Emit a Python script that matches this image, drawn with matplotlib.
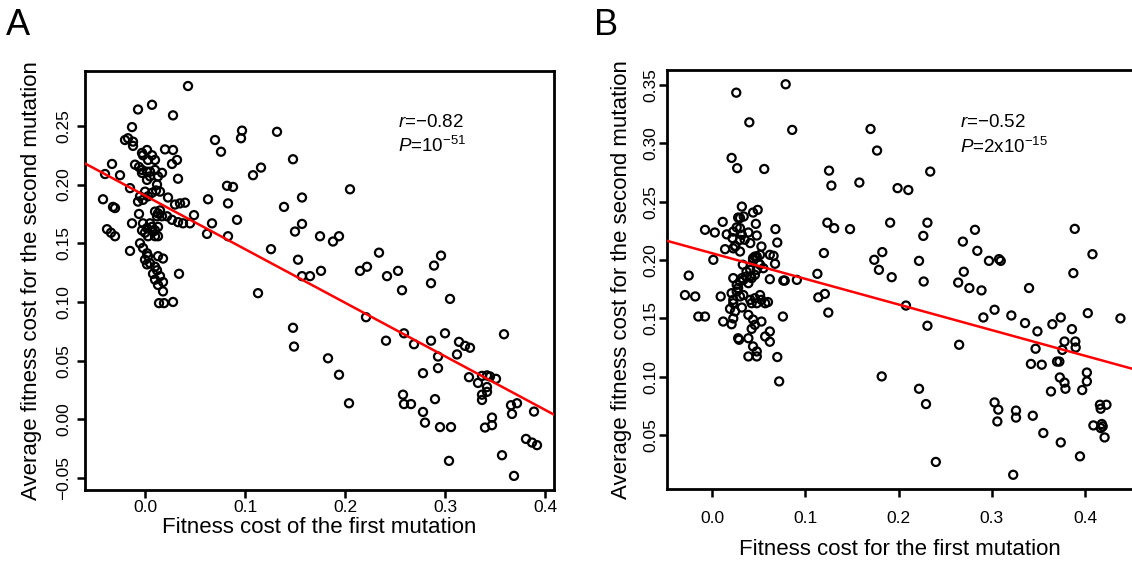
import numpy as np
import matplotlib
matplotlib.use("Agg")
import matplotlib.pyplot as plt

plt.rcParams['font.family'] = ['Liberation Sans', 'DejaVu Sans']
plt.rcParams['mathtext.fontset'] = 'custom'
plt.rcParams['mathtext.rm'] = 'Liberation Sans'
plt.rcParams['mathtext.it'] = 'Liberation Sans:italic'

# ---- panel A: first vs second mutation cost ----
a_x = [0.043, 0.007, -0.007, 0.028, -0.013, -0.020, -0.017, -0.012, -0.012,
       0.070, 0.097, 0.096, 0.132, 0.076, 0.020, 0.028,
       -0.003, 0.002, 0.007, 0.010, -0.002, 0.003,
       -0.033, -0.040, -0.025, -0.010, -0.006, -0.003, 0.002, 0.005,
       -0.003, 0.002, 0.005, 0.010, 0.013, 0.012, 0.017, 0.015, 0.011,
       0.027, 0.032, 0.033, 0.108, 0.116, 0.082, 0.088, 0.083, 0.063,
       -0.015, -0.042, -0.032, -0.030,
       -0.005, -0.002, -0.007, 0.000, 0.003, 0.007,
       0.023, 0.030, 0.035, 0.040, 0.049, 0.067, 0.092, 0.062, 0.083,
       -0.006, -0.013, -0.038, -0.034, -0.030,
       -0.015, 0.126, 0.113, 0.034, 0.014, 0.019, 0.028, 0.013, 0.018,
       0.010, 0.013, 0.015, 0.012, 0.017, 0.022, 0.027, 0.033, 0.038, 0.045,
       -0.002, 0.002, -0.003, 0.003, 0.000, 0.007, 0.008, 0.005, 0.010, 0.013, 0.013, 0.010,
       -0.005, -0.002, 0.002, 0.000, 0.003, 0.002, 0.005,
       0.010, 0.012, 0.008, 0.015, 0.010, 0.018, 0.013, 0.018,
       0.148, 0.205, 0.157, 0.139, 0.157, 0.150, 0.175, 0.188, 0.194, 0.153,
       0.157, 0.165, 0.176, 0.215, 0.222, 0.234, 0.242, 0.253, 0.289, 0.296,
       0.286, 0.257, 0.305, 0.221, 0.148, 0.149, 0.183, 0.194, 0.204, 0.241,
       0.259, 0.269, 0.286, 0.300, 0.293, 0.293, 0.278, 0.290, 0.258, 0.259,
       0.266, 0.278, 0.280, 0.295, 0.306, 0.304, 0.314, 0.320, 0.325, 0.312,
       0.324, 0.333, 0.337, 0.342, 0.345, 0.351, 0.342, 0.342, 0.337, 0.337,
       0.359, 0.366, 0.372, 0.367, 0.347, 0.347, 0.340, 0.389, 0.381, 0.387,
       0.392, 0.357, 0.369]
a_y = [0.284, 0.268, 0.264, 0.259, 0.249, 0.238, 0.2395, 0.2366, 0.233,
       0.238, 0.246, 0.2395, 0.245, 0.228, 0.230, 0.2295,
       0.227, 0.2295, 0.225, 0.221, 0.225, 0.221,
       0.2176, 0.209, 0.208, 0.217, 0.215, 0.2125, 0.211, 0.207,
       0.210, 0.204, 0.211, 0.2125, 0.207, 0.200, 0.210, 0.194, 0.195,
       0.2176, 0.221, 0.205, 0.208, 0.2145, 0.199, 0.198, 0.184, 0.1875,
       0.197, 0.1875, 0.181, 0.180,
       0.190, 0.187, 0.1855, 0.194, 0.190, 0.193,
       0.189, 0.183, 0.184, 0.1846, 0.174, 0.167, 0.170, 0.158, 0.156,
       0.175, 0.167, 0.162, 0.159, 0.156,
       0.1435, 0.145, 0.1075, 0.124, 0.099, 0.099, 0.100, 0.139, 0.137,
       0.177, 0.1755, 0.178, 0.173, 0.173, 0.173, 0.170, 0.168, 0.167, 0.167,
       0.167, 0.163, 0.161, 0.156, 0.159, 0.164, 0.160, 0.167, 0.161, 0.164, 0.156, 0.156,
       0.150, 0.146, 0.1415, 0.136, 0.139, 0.132, 0.133,
       0.130, 0.127, 0.124, 0.122, 0.119, 0.117, 0.1145, 0.109,
       0.2216, 0.196, 0.189, 0.181, 0.1665, 0.160, 0.156, 0.1515, 0.156, 0.136,
       0.122, 0.122, 0.1265, 0.1265, 0.130, 0.142, 0.122, 0.1265, 0.131, 0.1395,
       0.116, 0.110, 0.1026, 0.087, 0.078, 0.062, 0.052, 0.038, 0.0137, 0.067,
       0.0733, 0.064, 0.067, 0.0733, 0.0535, 0.0436, 0.0393, 0.0172, 0.021, 0.013,
       0.013, 0.0063, -0.0028, -0.0066, -0.0066, -0.0354, 0.066, 0.0626, 0.061, 0.0553,
       0.0359, 0.031, 0.037, 0.0374, 0.0365, 0.0345, 0.0275, 0.0234, 0.021, 0.0165,
       0.0725, 0.012, 0.0137, 0.0046, 0.0015, -0.005, -0.007, 0.0066, -0.0167, -0.0198,
       -0.022, -0.0306, -0.0482]
a_fit_x = [-0.06, 0.409]
a_fit_y = [0.218, 0.004]
a_xticks = [0.0, 0.1, 0.2, 0.3, 0.4]
a_yticks = [-0.05, 0.00, 0.05, 0.10, 0.15, 0.20, 0.25]

# ---- panel B ----
b_x = [0.026, 0.079, 0.040, 0.086, 0.021, 0.027, 0.056, 0.1255, 0.128, 0.158,
       0.170, 0.177, 0.234, 0.199, 0.2105,
       0.032, 0.028, 0.044, 0.049, 0.047, 0.034, 0.0115, -0.0075, 0.003,
       0.0158, 0.0228, 0.030, 0.032, 0.039, 0.035, 0.041, 0.048,
       0.068, 0.070, 0.1237, 0.131, 0.148,
       0.022, 0.0247, 0.014, 0.030, 0.053, 0.0014, -0.025,
       0.044, 0.048, 0.0515, 0.062, 0.066, 0.0676, 0.120, 0.113,
       0.033, 0.037, 0.032, 0.041, 0.048, 0.0515, 0.055,
       0.0228, 0.062, 0.0765, 0.078, 0.091,
       0.030, 0.0265, 0.025, 0.030, 0.0228, 0.046, 0.044, 0.050,
       0.041, 0.037, 0.0425, 0.046, 0.0336, 0.039, 0.030, 0.0265,
       -0.018, -0.029, 0.0093, 0.021, 0.0265, 0.030, 0.0228, 0.028,
       0.0336, 0.041, 0.046, 0.0515, 0.053, 0.057, 0.060, 0.048, 0.0425,
       0.0228, 0.0193, 0.032, 0.0247, -0.0147, -0.0075, 0.012, 0.021, 0.0228,
       0.039, 0.044, 0.046, 0.053, 0.0425, 0.062, 0.057, 0.062, 0.076,
       0.028, 0.029, 0.039, 0.044, 0.048, 0.039, 0.048, 0.070, 0.072,
       0.114, 0.121, 0.1247,
       0.191, 0.231, 0.2266, 0.282, 0.269, 0.389, 0.408, 0.3875,
       0.1826, 0.174, 0.179, 0.1927, 0.222, 0.227, 0.2845, 0.270, 0.264, 0.276,
       0.289, 0.297, 0.3078, 0.3096, 0.340,
       0.208, 0.231, 0.265, 0.182, 0.222, 0.2295, 0.240,
       0.291, 0.303, 0.321, 0.3357, 0.349, 0.347, 0.342, 0.3536,
       0.365, 0.374, 0.386, 0.378, 0.3896, 0.390, 0.3757, 0.403, 0.438,
       0.370, 0.3725, 0.373, 0.378, 0.379, 0.3635, 0.397, 0.402, 0.402,
       0.303, 0.307, 0.306, 0.326, 0.326, 0.344, 0.3553, 0.374, 0.3946, 0.323,
       0.416, 0.423, 0.4168, 0.409, 0.418, 0.419, 0.417, 0.421]
b_y = [0.3434, 0.3506, 0.318, 0.3115, 0.2875, 0.2787, 0.278, 0.2766, 0.2638, 0.2664,
       0.3123, 0.2938, 0.2758, 0.2616, 0.260,
       0.2458, 0.2364, 0.2407, 0.243, 0.231, 0.2373, 0.2327, 0.2259, 0.2236,
       0.222, 0.2244, 0.2273, 0.2216, 0.2236, 0.2174, 0.2145, 0.221,
       0.2265, 0.215, 0.232, 0.2273, 0.2265,
       0.2188, 0.2122, 0.2093, 0.2073, 0.2116, 0.2002, 0.1867,
       0.2016, 0.203, 0.2045, 0.2045, 0.2036, 0.1968, 0.206, 0.1882,
       0.196, 0.190, 0.1845, 0.186, 0.1916, 0.196, 0.193,
       0.1845, 0.1836, 0.1824, 0.1824, 0.183,
       0.236, 0.228, 0.2116, 0.2173, 0.210, 0.203, 0.200, 0.1973,
       0.1916, 0.1859, 0.1845, 0.1873, 0.183, 0.1802, 0.1816, 0.1788,
       0.1688, 0.170, 0.1688, 0.1716, 0.173, 0.1688, 0.1659, 0.176,
       0.170, 0.1659, 0.1673, 0.170, 0.1659, 0.163, 0.164, 0.163, 0.163,
       0.163, 0.1582, 0.1593, 0.156, 0.1516, 0.1516, 0.1473, 0.145, 0.150,
       0.153, 0.149, 0.1445, 0.1473, 0.141, 0.1388, 0.1345, 0.130, 0.1516,
       0.133, 0.1317, 0.133, 0.126, 0.1217, 0.1174, 0.1174, 0.1169, 0.096,
       0.168, 0.171, 0.155,
       0.232, 0.232, 0.2207, 0.2259, 0.2158, 0.2267, 0.205, 0.1888,
       0.2068, 0.2002, 0.1916, 0.1853, 0.1993, 0.1816, 0.2079, 0.190, 0.1807, 0.176,
       0.174, 0.1993, 0.2008, 0.1993, 0.176,
       0.161, 0.1437, 0.1274, 0.1003, 0.0897, 0.0766, 0.027,
       0.1508, 0.1574, 0.1525, 0.146, 0.1389, 0.124, 0.111, 0.1103,
       0.145, 0.1508, 0.1408, 0.1302, 0.1302, 0.125, 0.123, 0.1545, 0.150,
       0.113, 0.113, 0.0994, 0.095, 0.0897, 0.0874, 0.0886, 0.1036, 0.096,
       0.078, 0.0718, 0.0617, 0.071, 0.065, 0.0666, 0.0518, 0.0437, 0.0318, 0.016,
       0.076, 0.076, 0.0726, 0.0583, 0.0595, 0.0575, 0.056, 0.048]
b_fit_x = [-0.048, 0.45]
b_fit_y = [0.2164, 0.107]
b_xticks = [0.0, 0.1, 0.2, 0.3, 0.4]
b_yticks = [0.05, 0.10, 0.15, 0.20, 0.25, 0.30, 0.35]

ylabel = "Average fitness cost for the second mutation"


def fmt(v, nd):
    s = f"{v:.{nd}f}"
    return s.replace("-", "\u2212")


def style_axes(ax, xticks, yticks, xpad, ypad):
    for s in ax.spines.values():
        s.set_linewidth(2.0)
    ax.set_xticks(xticks)
    ax.set_xticklabels([fmt(v, 1) for v in xticks])
    ax.set_yticks(yticks)
    ax.set_yticklabels([fmt(v, 2) for v in yticks], rotation=90, va='center')
    ax.tick_params(axis='both', direction='out', length=6, width=1.8, labelsize=12.5)
    ax.tick_params(axis='x', pad=xpad)
    ax.tick_params(axis='y', pad=ypad)


fig = plt.figure(figsize=(11.32, 5.63), dpi=100)

axA = fig.add_axes([0.0751, 0.1297, 0.4143, 0.7442])
axA.scatter(a_x, a_y, s=34, facecolors='none', edgecolors='black', linewidths=1.6, zorder=2)
axA.plot(a_fit_x, a_fit_y, color='#ff0000', lw=1.8, zorder=3)
axA.set_xlim(-0.060, 0.409)
axA.set_ylim(-0.0602, 0.2968)
style_axes(axA, a_xticks, a_yticks, xpad=1.5, ypad=4)
axA.set_xlabel("Fitness cost of the first mutation", fontsize=16, labelpad=1)
axA.set_ylabel(ylabel, fontsize=16, labelpad=10)
axA.text(0.253, 0.249, "$\\mathit{r}$=\u22120.82", fontsize=13.5, va='baseline')
axA.text(0.253, 0.228, r"$\mathit{P}$=10$^{-51}$", fontsize=13.5, va='baseline')

axB = fig.add_axes([0.5892, 0.1314, 0.4108, 0.7442])
axB.scatter(b_x, b_y, s=34, facecolors='none', edgecolors='black', linewidths=1.6, zorder=2)
axB.plot(b_fit_x, b_fit_y, color='#ff0000', lw=1.8, zorder=3)
axB.set_xlim(-0.0483, 0.4504)
axB.set_ylim(0.0038, 0.3628)
style_axes(axB, b_xticks, b_yticks, xpad=10, ypad=0.5)
axB.spines['right'].set_visible(False)
axB.set_xlabel("Fitness cost for the first mutation", fontsize=16, labelpad=9)
axB.set_ylabel(ylabel, fontsize=16, labelpad=8)
axB.text(0.266, 0.314, "$\\mathit{r}$=\u22120.52", fontsize=13.5, va='baseline')
axB.text(0.266, 0.292, r"$\mathit{P}$=2x10$^{-15}$", fontsize=13.5, va='baseline')

fig.text(0.005, 0.985, "A", fontsize=26, va='top', ha='left')
fig.text(0.525, 0.985, "B", fontsize=26, va='top', ha='left')

fig.savefig("out.png", dpi=100)
